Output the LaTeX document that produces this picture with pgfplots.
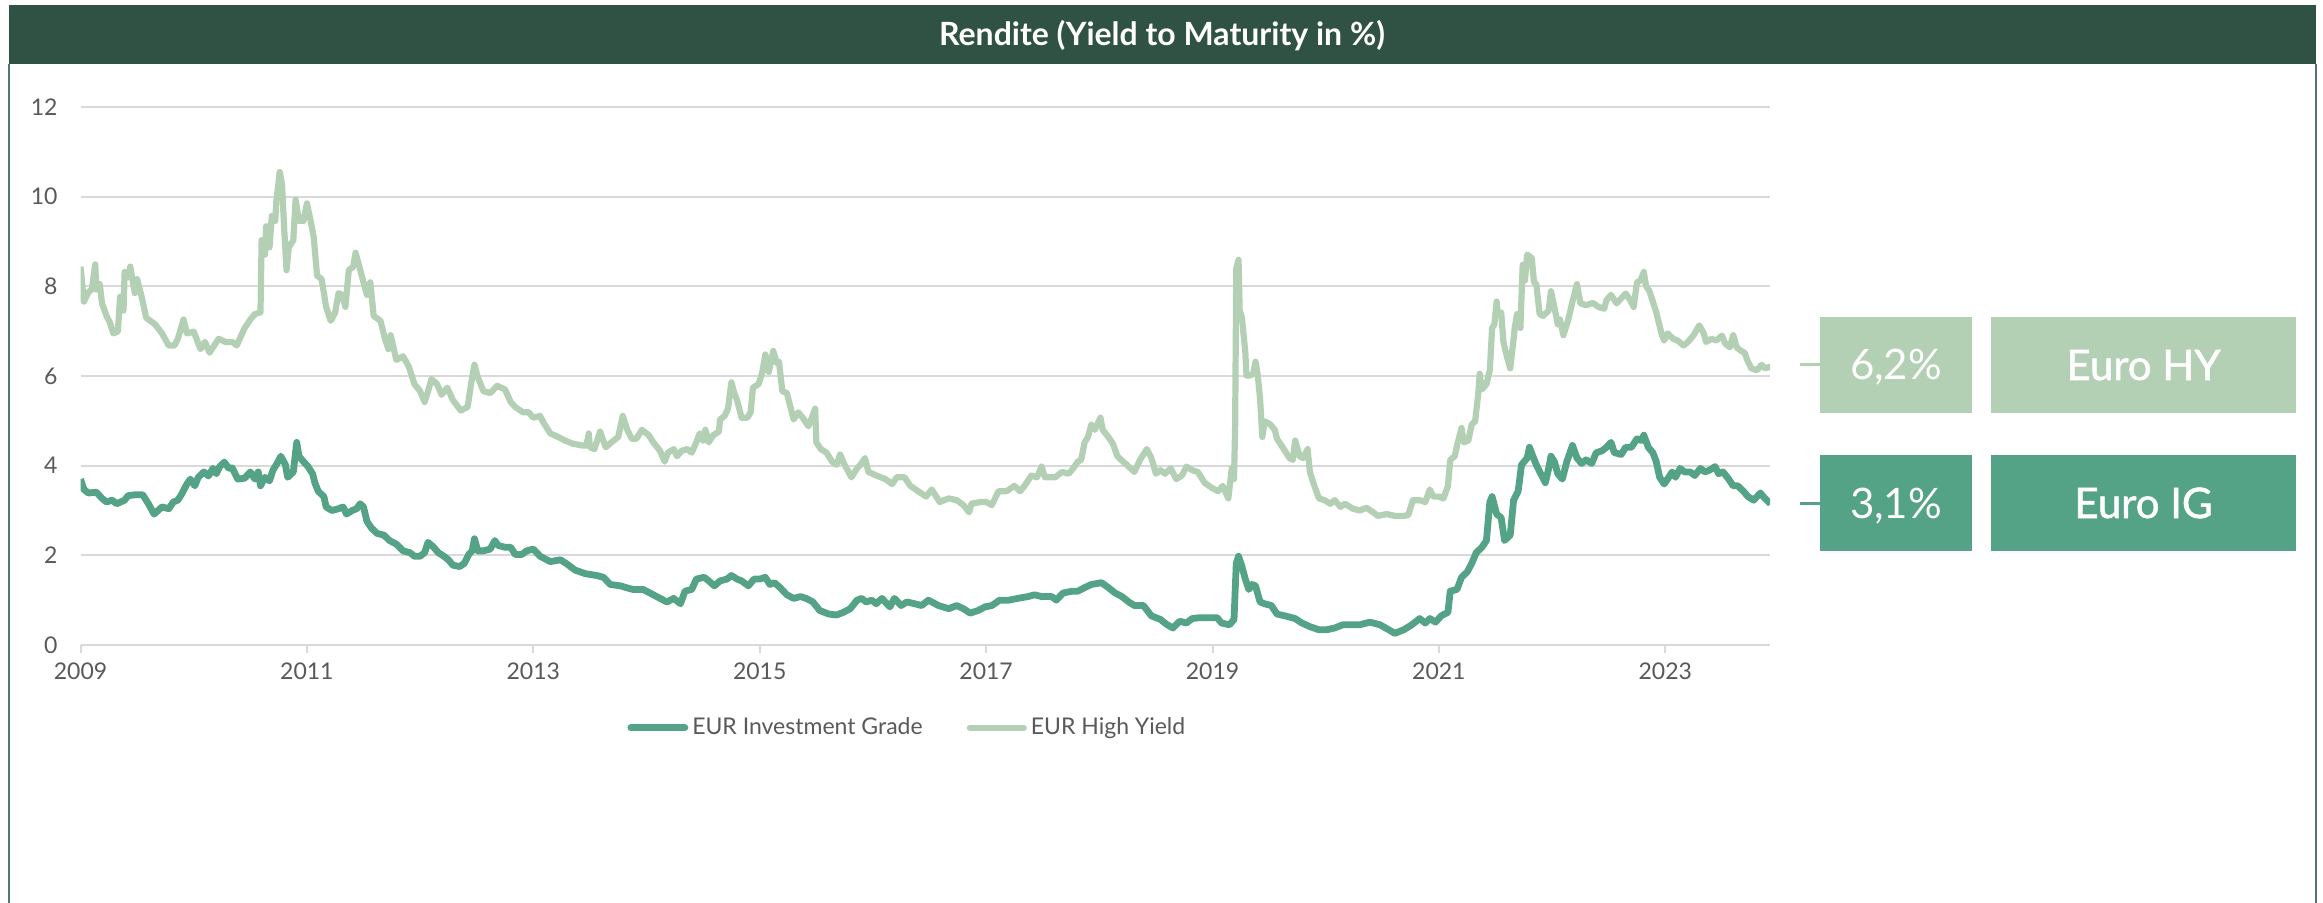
\documentclass[border=0pt]{standalone}
\usepackage{fontspec}
\setmainfont{Lato}
\newfontface\latomed{Lato}[FakeBold=1.3]
\usepackage{pgfplots}
\pgfplotsset{compat=1.18}
\definecolor{ig}{RGB}{85,163,134}
\definecolor{hy}{RGB}{180,208,180}
\definecolor{titlebg}{RGB}{47,82,68}
\definecolor{gridgray}{RGB}{217,217,217}
\definecolor{labgray}{RGB}{89,89,89}
\definecolor{framec}{RGB}{80,120,105}
\begin{document}
\begin{tikzpicture}
\begin{scope}[x=0.5pt,y=-0.5pt]
\useasboundingbox (0,0) rectangle (2323,903);
\fill[white] (0,0) rectangle (2323,903);
\fill[titlebg] (9,5) rectangle (2316,64);
\draw[framec, line width=1pt] (9,64) -- (9,903);
\draw[framec, line width=1pt] (2316,64) -- (2316,903);
\node[white, anchor=base, font=\fontsize{16}{20}\selectfont\bfseries] at (1162,46) {Rendite (Yield to Maturity in \%)};
\fill[hy] (1820,317) rectangle (1972,413);
\fill[hy] (1991,317) rectangle (2296,413);
\fill[ig] (1820,455) rectangle (1972,551);
\fill[ig] (1991,455) rectangle (2296,551);
\draw[hy, line width=1.5pt] (1800,365) -- (1820,365);
\draw[ig, line width=1.5pt] (1800,503) -- (1820,503);
\node[white, anchor=base, font=\fontsize{21}{25}\selectfont] at (1896,380) {6,2\%};
\node[white, anchor=base, font=\fontsize{21}{25}\latomed] at (2143.5,380) {Euro HY};
\node[white, anchor=base, font=\fontsize{21}{25}\selectfont] at (1896,518) {3,1\%};
\node[white, anchor=base, font=\fontsize{21}{25}\latomed] at (2143.5,518) {Euro IG};
\end{scope}
\begin{axis}[
  at={(40.25pt,-322.5pt)}, anchor=south west,
  scale only axis, width=844.75pt, height=269pt,
  xmin=2009, xmax=2023.925, ymin=0, ymax=12,
  xtick={2009,2011,2013,2015,2017,2019,2021,2023},
  xticklabels={2009,2011,2013,2015,2017,2019,2021,2023},
  ytick={0,2,4,6,8,10,12},
  /pgf/number format/assume math mode=true,
  ymajorgrids, grid style={gridgray, line width=1pt},
  axis line style={draw=none},
  tick align=outside, major tick length=4pt,
  xtick style={gridgray, line width=1pt}, ytick style={draw=none},
  xtick pos=lower, ytick pos=left,
  tick label style={font=\fontsize{11.5}{14}\selectfont, text=labgray},
  yticklabel style={xshift=-4pt},
  xticklabel style={yshift=-1.5pt},
  legend style={at={(0.49,-0.154)}, anchor=center, draw=none, fill=none,
    legend columns=2, font=\fontsize{11.5}{14}\selectfont, text=labgray,
    /tikz/every even column/.append style={column sep=20pt}},
  legend image code/.code={\draw[#1, line cap=round] (0pt,0pt) -- (27pt,0pt);},
]
\addplot[ig, line width=3.4pt, line join=round] table {
x y
2009.00 3.70
2009.03 3.47
2009.07 3.39
2009.14 3.41
2009.19 3.27
2009.23 3.19
2009.28 3.23
2009.32 3.15
2009.39 3.23
2009.42 3.33
2009.48 3.35
2009.55 3.35
2009.60 3.15
2009.65 2.92
2009.72 3.08
2009.78 3.04
2009.82 3.19
2009.86 3.23
2009.89 3.35
2009.94 3.59
2009.97 3.70
2010.01 3.55
2010.04 3.74
2010.09 3.86
2010.13 3.77
2010.17 3.94
2010.20 3.82
2010.23 3.98
2010.27 4.08
2010.31 3.94
2010.34 3.95
2010.39 3.70
2010.45 3.72
2010.50 3.86
2010.54 3.70
2010.57 3.86
2010.59 3.55
2010.63 3.74
2010.67 3.66
2010.70 3.90
2010.73 4.02
2010.77 4.21
2010.81 4.02
2010.83 3.74
2010.88 3.86
2010.91 4.52
2010.93 4.21
2010.97 4.09
2011.01 3.98
2011.05 3.82
2011.07 3.62
2011.10 3.43
2011.15 3.31
2011.17 3.08
2011.22 3.00
2011.28 3.04
2011.32 3.08
2011.35 2.92
2011.40 3.00
2011.44 3.04
2011.47 3.15
2011.50 3.08
2011.53 2.76
2011.57 2.61
2011.62 2.49
2011.68 2.45
2011.73 2.33
2011.79 2.25
2011.85 2.10
2011.91 2.06
2011.95 1.98
2012.00 1.98
2012.04 2.06
2012.07 2.29
2012.12 2.18
2012.16 2.06
2012.21 1.98
2012.25 1.90
2012.29 1.78
2012.35 1.75
2012.39 1.82
2012.43 2.02
2012.46 2.10
2012.48 2.37
2012.51 2.10
2012.56 2.10
2012.62 2.14
2012.66 2.33
2012.69 2.22
2012.75 2.18
2012.80 2.18
2012.84 2.02
2012.90 2.02
2012.94 2.10
2013.00 2.14
2013.06 1.98
2013.15 1.86
2013.24 1.90
2013.29 1.82
2013.37 1.67
2013.46 1.59
2013.56 1.55
2013.62 1.51
2013.68 1.35
2013.77 1.32
2013.82 1.28
2013.88 1.24
2013.97 1.24
2014.06 1.12
2014.12 1.04
2014.18 0.96
2014.24 1.04
2014.30 0.92
2014.34 1.20
2014.40 1.24
2014.44 1.47
2014.51 1.51
2014.55 1.43
2014.60 1.32
2014.65 1.43
2014.71 1.47
2014.75 1.55
2014.80 1.47
2014.84 1.43
2014.90 1.32
2014.95 1.47
2015.00 1.47
2015.05 1.51
2015.09 1.35
2015.13 1.39
2015.18 1.28
2015.24 1.12
2015.30 1.04
2015.36 1.08
2015.41 1.04
2015.47 0.96
2015.53 0.77
2015.61 0.69
2015.68 0.67
2015.74 0.73
2015.80 0.81
2015.86 1.00
2015.90 1.04
2015.94 0.96
2015.99 1.00
2016.03 0.92
2016.08 1.04
2016.15 0.85
2016.19 1.04
2016.25 0.88
2016.30 0.96
2016.37 0.92
2016.43 0.88
2016.49 1.00
2016.58 0.88
2016.67 0.81
2016.74 0.88
2016.80 0.81
2016.86 0.71
2016.93 0.77
2016.99 0.85
2017.05 0.88
2017.12 1.00
2017.20 1.00
2017.28 1.04
2017.37 1.08
2017.43 1.12
2017.49 1.08
2017.58 1.08
2017.62 1.00
2017.68 1.16
2017.76 1.20
2017.81 1.20
2017.87 1.28
2017.93 1.35
2018.02 1.39
2018.08 1.28
2018.14 1.16
2018.20 1.08
2018.26 0.96
2018.31 0.88
2018.39 0.88
2018.46 0.65
2018.54 0.57
2018.60 0.45
2018.65 0.38
2018.71 0.53
2018.77 0.49
2018.82 0.59
2018.89 0.61
2018.96 0.61
2019.04 0.61
2019.08 0.49
2019.15 0.45
2019.19 0.57
2019.21 1.82
2019.23 1.98
2019.26 1.75
2019.29 1.47
2019.32 1.24
2019.35 1.35
2019.38 1.32
2019.42 0.96
2019.46 0.92
2019.52 0.88
2019.57 0.69
2019.64 0.65
2019.73 0.59
2019.79 0.49
2019.86 0.41
2019.94 0.34
2020.01 0.34
2020.08 0.38
2020.15 0.45
2020.30 0.45
2020.39 0.51
2020.48 0.45
2020.55 0.35
2020.61 0.26
2020.69 0.34
2020.76 0.45
2020.83 0.59
2020.88 0.49
2020.92 0.59
2020.97 0.51
2021.02 0.65
2021.08 0.73
2021.10 1.20
2021.16 1.24
2021.20 1.51
2021.25 1.63
2021.29 1.82
2021.33 2.06
2021.38 2.18
2021.42 2.33
2021.45 3.19
2021.47 3.31
2021.51 2.92
2021.55 2.84
2021.58 2.33
2021.63 2.45
2021.66 3.23
2021.70 3.43
2021.73 4.02
2021.78 4.17
2021.80 4.41
2021.83 4.21
2021.86 4.02
2021.90 3.82
2021.94 3.62
2021.97 3.94
2021.99 4.21
2022.02 4.09
2022.05 3.82
2022.09 3.70
2022.13 4.09
2022.18 4.45
2022.22 4.17
2022.26 4.05
2022.30 4.13
2022.35 4.05
2022.39 4.29
2022.44 4.33
2022.48 4.41
2022.52 4.52
2022.55 4.29
2022.61 4.25
2022.65 4.41
2022.70 4.41
2022.75 4.60
2022.79 4.56
2022.81 4.68
2022.85 4.41
2022.89 4.29
2022.92 4.09
2022.95 3.74
2022.99 3.59
2023.03 3.74
2023.06 3.86
2023.09 3.74
2023.13 3.94
2023.17 3.86
2023.22 3.86
2023.26 3.78
2023.31 3.94
2023.35 3.86
2023.39 3.90
2023.44 3.98
2023.47 3.82
2023.51 3.86
2023.56 3.70
2023.60 3.55
2023.64 3.55
2023.69 3.43
2023.73 3.31
2023.78 3.23
2023.81 3.31
2023.84 3.39
2023.88 3.27
2023.93 3.15
};
\addlegendentry{EUR Investment Grade}
\addplot[hy, line width=3.1pt, line join=round] table {
x y
2009.00 8.44
2009.03 7.66
2009.07 7.87
2009.10 7.93
2009.13 8.49
2009.14 7.93
2009.17 8.05
2009.19 7.62
2009.23 7.34
2009.26 7.19
2009.29 6.95
2009.33 6.99
2009.35 7.77
2009.38 7.46
2009.39 8.32
2009.42 8.20
2009.44 8.44
2009.48 7.85
2009.50 8.16
2009.54 7.77
2009.58 7.30
2009.66 7.15
2009.72 6.95
2009.78 6.68
2009.83 6.68
2009.86 6.83
2009.91 7.26
2009.94 6.95
2010.00 6.99
2010.06 6.60
2010.10 6.76
2010.14 6.52
2010.22 6.83
2010.28 6.76
2010.34 6.76
2010.38 6.68
2010.45 7.07
2010.50 7.26
2010.54 7.38
2010.59 7.42
2010.60 9.03
2010.63 8.71
2010.64 9.34
2010.67 8.87
2010.69 9.57
2010.72 9.46
2010.73 9.89
2010.76 10.55
2010.78 10.28
2010.80 9.26
2010.82 8.36
2010.84 8.87
2010.88 9.03
2010.90 9.93
2010.93 9.46
2010.97 9.46
2011.00 9.85
2011.03 9.50
2011.06 9.10
2011.09 8.24
2011.13 8.16
2011.17 7.54
2011.21 7.23
2011.25 7.42
2011.28 7.85
2011.31 7.81
2011.34 7.54
2011.37 8.36
2011.41 8.44
2011.43 8.75
2011.45 8.56
2011.48 8.28
2011.53 7.81
2011.56 8.09
2011.59 7.34
2011.65 7.23
2011.69 6.83
2011.72 6.60
2011.74 6.91
2011.79 6.36
2011.85 6.44
2011.90 6.21
2011.95 5.82
2012.00 5.66
2012.04 5.42
2012.07 5.66
2012.10 5.93
2012.15 5.82
2012.19 5.58
2012.24 5.74
2012.29 5.46
2012.36 5.23
2012.42 5.31
2012.45 5.82
2012.48 6.25
2012.51 5.97
2012.56 5.66
2012.62 5.62
2012.68 5.78
2012.75 5.70
2012.80 5.42
2012.84 5.31
2012.91 5.19
2012.96 5.19
2013.00 5.07
2013.06 5.11
2013.09 4.96
2013.15 4.72
2013.22 4.64
2013.28 4.56
2013.35 4.49
2013.43 4.45
2013.47 4.45
2013.49 4.72
2013.50 4.41
2013.54 4.37
2013.59 4.76
2013.64 4.41
2013.69 4.52
2013.75 4.64
2013.79 5.11
2013.83 4.80
2013.87 4.60
2013.91 4.60
2013.96 4.80
2014.02 4.68
2014.06 4.52
2014.12 4.33
2014.16 4.09
2014.19 4.29
2014.24 4.37
2014.27 4.21
2014.31 4.33
2014.36 4.37
2014.40 4.29
2014.44 4.52
2014.47 4.72
2014.50 4.56
2014.52 4.80
2014.55 4.52
2014.59 4.68
2014.64 4.76
2014.65 5.03
2014.69 5.11
2014.72 5.27
2014.75 5.86
2014.77 5.66
2014.80 5.46
2014.84 5.07
2014.89 5.07
2014.92 5.19
2014.94 5.74
2014.99 5.82
2015.02 6.05
2015.05 6.48
2015.08 6.09
2015.10 6.32
2015.12 6.56
2015.15 6.29
2015.17 6.32
2015.20 5.66
2015.24 5.62
2015.26 5.42
2015.30 5.03
2015.34 5.19
2015.38 5.07
2015.43 4.88
2015.46 5.07
2015.49 5.27
2015.50 4.52
2015.54 4.37
2015.59 4.29
2015.64 4.09
2015.68 4.02
2015.71 4.25
2015.75 4.02
2015.81 3.74
2015.86 3.94
2015.89 4.02
2015.93 4.17
2015.96 3.86
2016.03 3.78
2016.11 3.70
2016.17 3.59
2016.21 3.74
2016.28 3.74
2016.33 3.55
2016.40 3.43
2016.47 3.31
2016.52 3.47
2016.59 3.19
2016.67 3.27
2016.74 3.23
2016.80 3.12
2016.85 2.96
2016.87 3.15
2016.95 3.19
2017.00 3.19
2017.05 3.12
2017.11 3.43
2017.18 3.43
2017.25 3.55
2017.30 3.43
2017.34 3.55
2017.40 3.78
2017.45 3.74
2017.49 3.98
2017.52 3.74
2017.61 3.74
2017.67 3.86
2017.73 3.82
2017.77 3.94
2017.81 4.09
2017.84 4.13
2017.87 4.52
2017.90 4.64
2017.93 4.92
2017.96 4.80
2018.01 5.07
2018.03 4.80
2018.08 4.64
2018.12 4.49
2018.16 4.21
2018.21 4.09
2018.26 3.98
2018.31 3.86
2018.36 4.13
2018.42 4.37
2018.46 4.17
2018.50 3.82
2018.54 3.90
2018.58 3.82
2018.63 3.94
2018.68 3.70
2018.73 3.78
2018.77 3.98
2018.82 3.90
2018.87 3.86
2018.93 3.62
2018.99 3.51
2019.05 3.43
2019.09 3.55
2019.14 3.27
2019.17 3.94
2019.19 3.70
2019.20 4.88
2019.21 8.40
2019.23 8.59
2019.24 7.46
2019.26 7.30
2019.29 6.52
2019.30 6.01
2019.33 6.01
2019.36 6.05
2019.38 6.32
2019.40 6.01
2019.42 5.50
2019.44 4.64
2019.46 4.99
2019.51 4.92
2019.55 4.80
2019.57 4.60
2019.63 4.37
2019.68 4.17
2019.71 4.13
2019.73 4.56
2019.77 4.21
2019.80 4.17
2019.84 4.37
2019.86 3.86
2019.89 3.62
2019.94 3.27
2019.99 3.23
2020.04 3.15
2020.08 3.23
2020.13 3.08
2020.17 3.15
2020.24 3.04
2020.30 3.00
2020.36 3.06
2020.42 2.96
2020.46 2.88
2020.54 2.92
2020.61 2.88
2020.69 2.88
2020.73 2.90
2020.77 3.23
2020.83 3.23
2020.88 3.19
2020.92 3.47
2020.95 3.31
2021.00 3.31
2021.04 3.27
2021.08 3.55
2021.10 4.13
2021.14 4.21
2021.16 4.45
2021.20 4.84
2021.22 4.52
2021.26 4.56
2021.29 4.92
2021.32 4.99
2021.35 5.66
2021.36 6.05
2021.38 5.70
2021.42 5.82
2021.45 6.13
2021.47 7.07
2021.49 7.15
2021.51 7.66
2021.52 7.38
2021.55 7.42
2021.57 6.76
2021.60 6.44
2021.63 6.17
2021.66 6.83
2021.67 7.07
2021.69 7.38
2021.72 7.07
2021.74 8.48
2021.76 8.13
2021.78 8.71
2021.82 8.63
2021.84 8.09
2021.86 8.05
2021.89 7.38
2021.92 7.34
2021.97 7.46
2021.99 7.89
2022.02 7.54
2022.05 7.15
2022.07 7.26
2022.10 6.91
2022.14 7.23
2022.18 7.66
2022.22 8.05
2022.25 7.62
2022.30 7.58
2022.36 7.63
2022.41 7.54
2022.46 7.50
2022.48 7.69
2022.52 7.81
2022.57 7.62
2022.61 7.73
2022.65 7.84
2022.69 7.69
2022.72 7.54
2022.75 8.09
2022.78 8.13
2022.81 8.32
2022.83 8.01
2022.86 7.89
2022.89 7.66
2022.92 7.42
2022.97 6.91
2022.99 6.79
2023.02 6.95
2023.07 6.83
2023.11 6.79
2023.16 6.68
2023.20 6.76
2023.25 6.91
2023.30 7.13
2023.34 6.95
2023.36 6.76
2023.41 6.83
2023.45 6.79
2023.50 6.90
2023.53 6.72
2023.57 6.64
2023.60 6.91
2023.63 6.64
2023.67 6.56
2023.70 6.52
2023.73 6.32
2023.76 6.17
2023.81 6.13
2023.85 6.25
2023.88 6.17
2023.93 6.21
};
\addlegendentry{EUR High Yield}
\end{axis}
\end{tikzpicture}
\end{document}
